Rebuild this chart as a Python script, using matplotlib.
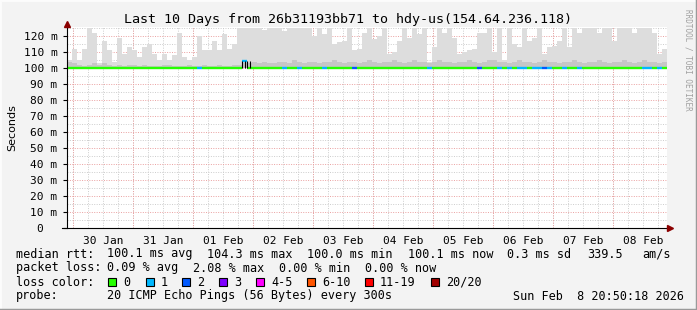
import numpy as np
import matplotlib
matplotlib.use('Agg')
import matplotlib.pyplot as plt
from matplotlib.patches import Rectangle
from matplotlib.lines import Line2D

W, H = 697, 310

# ---- data (one column = 2 hours, 120 columns = 10 days) ----
smoke_max = [105, 112, 105, 112, 125, 122, 103, 117, 111, 104,
             119, 109, 113, 111, 107, 113, 115, 109, 105, 109,
             105, 108, 122, 107, 105, 107, 120, 111, 111, 117,
             111, 121, 112, 115, 125, 125, 125, 125, 125, 124,
             125, 125, 125, 123, 125, 125, 125, 125, 125, 120,
             125, 121, 125, 115, 116, 117, 125, 111, 112, 122,
             125, 118, 120, 125, 109, 110, 117, 125, 119, 125,
             121, 125, 104, 113, 125, 122, 125, 119, 109, 110,
             111, 112, 122, 122, 125, 110, 125, 105, 125, 115,
             113, 125, 117, 119, 125, 109, 113, 114, 117, 125,
             113, 125, 122, 125, 125, 125, 122, 125, 125, 117,
             125, 125, 125, 122, 125, 125, 125, 122, 109, 112]
smoke_mid = [104, 103, 102, 101, 102, 103, 102, 103, 102, 101,
             102, 101, 102, 102, 101, 102, 101, 101, 101, 102,
             102, 101, 101, 101, 102, 101, 101, 102, 101, 101,
             102, 101, 101, 102, 102, 103, 103, 104, 103, 104,
             103, 103, 104, 104, 103, 105, 104, 103, 104, 104,
             103, 104, 104, 105, 104, 103, 104, 104, 103, 104,
             105, 104, 103, 104, 104, 105, 104, 103, 104, 105,
             104, 104, 103, 104, 105, 104, 104, 103, 104, 104,
             105, 104, 103, 104, 105, 105, 104, 104, 103, 104,
             105, 104, 104, 103, 104, 105, 104, 104, 103, 104,
             104, 105, 104, 103, 104, 104, 105, 104, 103, 104,
             104, 105, 104, 103, 104, 105, 104, 104, 103, 104]
median = [100.1] * 120
median[35] = 104.3
median[64] = 100.0
median[99] = 99.9
median[113] = 100.0
loss_idx = [26, 35, 43, 46, 51, 57, 72, 82, 86, 88, 90, 91, 93, 94, 95, 96, 99, 102, 115, 116, 118]
loss_val = [1, 1, 1, 1, 1, 2, 1, 2, 1, 1, 1, 1, 1, 1, 2, 1, 1, 1, 1, 1, 1]

day_labels = ['30 Jan', '31 Jan', '01 Feb', '02 Feb', '03 Feb',
              '04 Feb', '05 Feb', '06 Feb', '07 Feb', '08 Feb']
first_midnight = 2.4  # hours after chart start
y_ticks = [0, 10, 20, 30, 40, 50, 60, 70, 80, 90, 100, 110, 120]

loss_names = ['0', '1', '2', '3', '4-5', '6-10', '11-19', '20/20']
loss_colors = ['#26ff00', '#00b8ff', '#0059ff', '#7e00ff', '#ff00ff', '#ff5500', '#ff0000', '#a10000']

mono = 'DejaVu Sans Mono'

fig = plt.figure(figsize=(W / 100, H / 100), dpi=100, facecolor='#f3f3f3')
ax = fig.add_axes([67 / W, (310 - 228) / H, 600 / W, 201 / H])
ax.set_facecolor('white')
ax.set_xlim(0, 240)
ax.set_ylim(0, 125.6)

# grid
minor_c = '#cccccc'
major_c = '#eaa0a0'
dots = (0, (1, 1.5))
for h in np.arange(0, 240.01, 6):
    ax.axvline(h + first_midnight % 6, color=minor_c, lw=0.7, ls=dots, zorder=0)
for k in range(10):
    ax.axvline(first_midnight + 24 * k, color=major_c, lw=0.7, ls=dots, zorder=0.5)
for v in range(5, 126, 10):
    ax.axhline(v, color=minor_c, lw=0.7, ls=dots, zorder=0)
for v in y_ticks[1:]:
    ax.axhline(v, color=major_c, lw=0.7, ls=dots, zorder=0.5)

# smoke
x = np.arange(120) * 2.0
med = np.array(median)
ax.bar(x, np.array(smoke_max) - 100, bottom=100, width=2, align='edge', color='#dddddd', lw=0, zorder=1)
ax.bar(x, np.array(smoke_mid) - 100, bottom=100, width=2, align='edge', color='#c6c6c6', lw=0, zorder=1.2)

# median colored by loss
loss = np.zeros(120, dtype=int)
loss[loss_idx] = loss_val
ax.hlines(med, x, x + 2, colors=[loss_colors[l] for l in loss], lw=1.7, zorder=3)
for i in range(1, 120):
    if abs(med[i] - med[i - 1]) > 0.5:
        lo, hi = min(med[i], med[i - 1]), max(med[i], med[i - 1])
        ax.vlines(x[i], lo, hi, color='black', lw=0.8, zorder=3)
        ax.vlines(x[i] + 1.2, lo, hi, color='black', lw=0.8, zorder=3)

# axes
for s in ['top', 'right', 'left', 'bottom']:
    ax.spines[s].set_visible(False)
ax.set_xticks([first_midnight + 12 + 24 * k for k in range(10)])
ax.set_xticklabels(day_labels, fontfamily=mono, fontsize=8)
ax.tick_params(axis='x', length=0, pad=6)
ax.set_yticks(y_ticks)
ax.set_yticklabels(['0  '] + ['%d m' % v for v in y_ticks[1:]], fontfamily=mono, fontsize=8)
ax.tick_params(axis='y', length=3, width=0.8, pad=4)

fig.text(12 / W, 1 - 128 / H, 'Seconds', rotation=90, ha='center', va='center', fontsize=8)

# axis lines with arrows
fig.add_artist(Line2D([67 / W, 67 / W], [1 - 228 / H, 1 - 22 / H], color='black', lw=0.8))
fig.add_artist(Line2D([62 / W, 669 / W], [1 - 228 / H, 1 - 228 / H], color='black', lw=0.8))
fig.add_artist(Line2D([67 / W], [1 - 23.5 / H], marker='^', color='#8b0000', markersize=5, lw=0))
fig.add_artist(Line2D([670 / W], [1 - 228 / H], marker='>', color='#8b0000', markersize=5, lw=0))


def txt(px, py, s, **kw):
    fig.text(px / W, 1 - py / H, s, va='center', ha='left', fontfamily=mono, fontsize=8.5, **kw)


fig.text(348 / W, 1 - 19 / H, 'Last 10 Days from 26b31193bb71 to hdy-us(154.64.236.118)',
         ha='center', va='center', fontfamily=mono, fontsize=9.6)
fig.text(688 / W, 1 - 60 / H, 'RRDTOOL / TOBI OETIKER', rotation=270, ha='center', va='center',
         fontfamily=mono, fontsize=5.5, color='#a0a0a0')

txt(16, 254, 'median rtt:')
for px, s in [(107, '100.1 ms avg'), (207, '104.3 ms max'), (307, '100.0 ms min'),
              (408, '100.1 ms now'), (507, '0.3 ms sd'), (587, '339.5'), (642, 'am/s')]:
    txt(px, 254, s)
txt(16, 268, 'packet loss:')
for px, s in [(107, '0.09 % avg'), (193, '2.08 % max'), (279, '0.00 % min'), (365, '0.00 % now')]:
    txt(px, 268, s)
txt(16, 282, 'loss color:')
box_x = [108, 146, 182, 219, 256, 307, 365, 431]
for bx, name, c in zip(box_x, loss_names, loss_colors):
    fig.add_artist(Rectangle((bx / W, 1 - 286 / H), 8 / W, 8 / H, facecolor=c, edgecolor='black', lw=0.8))
    txt(bx + 15, 282, name)
txt(16, 296, 'probe:')
txt(107, 296, '20 ICMP Echo Pings (56 Bytes) every 300s')
txt(513, 296, 'Sun Feb  8 20:50:18 2026')

# 3d frame
fig.add_artist(Line2D([0, 1], [1, 1], color='#fcfcfc', lw=2))
fig.add_artist(Line2D([0, 0], [0, 1], color='#fcfcfc', lw=2))
fig.add_artist(Line2D([1, 1], [0, 1], color='#9a9a9a', lw=2.5))
fig.add_artist(Line2D([0, 1], [0, 0], color='#9a9a9a', lw=2.5))

fig.savefig('out.png', dpi=100, facecolor=fig.get_facecolor())
